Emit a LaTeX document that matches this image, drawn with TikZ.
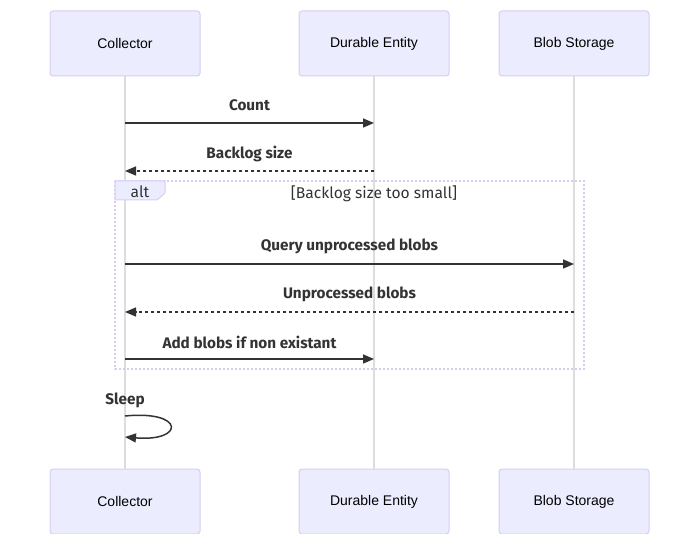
\documentclass[tikz,border=0pt]{standalone}
\usepackage{fontspec}
\setmainfont{Liberation Sans}
\newfontfamily\labfont{Fira Sans}
\usetikzlibrary{arrows.meta}
\definecolor{actfill}{HTML}{ECECFF}
\definecolor{actline}{HTML}{D8CCF3}
\definecolor{lifeline}{HTML}{DDDDDD}
\definecolor{msg}{HTML}{333333}
\tikzset{
  actor/.style={draw=actline, fill=actfill, line width=1pt, rounded corners=3pt,
    minimum width=150pt, minimum height=65pt, inner sep=0pt, text=black,
    font=\fontsize{14}{16}\selectfont},
  life/.style={draw=lifeline, line width=1.2pt},
  msgline/.style={draw=msg, line width=1.5pt, -{Triangle[length=11pt,width=9pt]}},
  reply/.style={msgline, dash pattern=on 3pt off 3pt},
  msglabel/.style={text=msg, font=\labfont\bfseries\fontsize{15.3}{18}\selectfont, inner sep=0pt},
  loopbox/.style={draw=actline, line width=1.8pt, dash pattern=on 2pt off 2pt},
  looptext/.style={text=msg, font=\labfont\fontsize{15.6}{18}\selectfont, inner sep=0pt}
}
\begin{document}
\begin{tikzpicture}[x=1pt,y=-1pt]
\useasboundingbox (0,0) rectangle (699,534);
% actors
\node[actor] (c1) at (125,43.5) {Collector};
\node[actor] (d1) at (374,43.5) {Durable Entity};
\node[actor] (b1) at (574,43.5) {Blob Storage};
\node[actor] (c2) at (125,501.5) {Collector};
\node[actor] (d2) at (374,501.5) {Durable Entity};
\node[actor] (b2) at (574,501.5) {Blob Storage};
% lifelines
\draw[life] (c1.south) -- (c2.north);
\draw[life] (d1.south) -- (d2.north);
\draw[life] (b1.south) -- (b2.north);
% alt frame
\draw[loopbox] (115,181) rectangle (584,369);
\draw[draw=actline, fill=actfill, line width=1pt] (115,181) -- (165,181) -- (165,193) -- (157,200) -- (115,200) -- cycle;
\node[looptext] (altl) at (140,192) {alt};
\node[looptext] (cond) at (374,194) {[Backlog size too small]};
% message coordinates
\coordinate (c-m1) at (125,123); \coordinate (d-m1) at (374,123);
\coordinate (c-m2) at (125,171); \coordinate (d-m2) at (374,171);
\coordinate (c-m3) at (125,264); \coordinate (b-m3) at (574,264);
\coordinate (c-m4) at (125,312); \coordinate (b-m4) at (574,312);
\coordinate (c-m5) at (125,359); \coordinate (d-m5) at (374,359);
\coordinate (c-s1) at (125,416); \coordinate (c-s2) at (125,437);
% messages
\draw[msgline] (c-m1) -- (d-m1);
\node[msglabel] (l1) at (249.5,105.5) {Count};
\draw[reply] (d-m2) -- (c-m2);
\node[msglabel] (l2) at (249.5,153.5) {Backlog size};
\draw[msgline] (c-m3) -- (b-m3);
\node[msglabel] (l3) at (349.5,246.5) {Query unprocessed blobs};
\draw[reply] (b-m4) -- (c-m4);
\node[msglabel] (l4) at (349.5,294.5) {Unprocessed blobs};
\draw[msgline] (c-m5) -- (d-m5);
\node[msglabel] (l5) at (249.5,342.5) {Add blobs if non existant};
\node[msglabel] (l6) at (125,400.5) {Sleep};
\draw[msgline] (c-s1) .. controls (185,410) and (185,442) .. (c-s2);
\end{tikzpicture}
\end{document}
